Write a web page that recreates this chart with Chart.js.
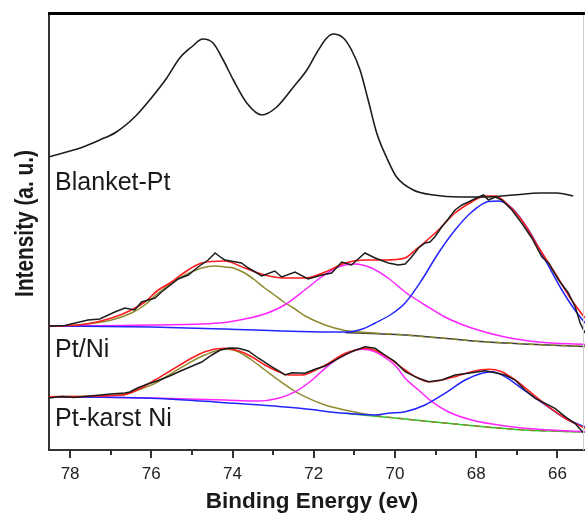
<!DOCTYPE html>
<html><head><meta charset="utf-8">
<script src="https://cdn.jsdelivr.net/npm/chart.js@4.4.0/dist/chart.umd.min.js"></script>
<style>html,body{margin:0;padding:0;background:#fff;overflow:hidden}#wrap{width:585px;height:515px;position:relative}</style>
</head><body><div id="wrap"><canvas id="c"></canvas></div>
<script>
// ---- axis ----
const xMajor = [78, 76, 74, 72, 70, 68, 66];
const xTickLabels = ['78', '76', '74', '72', '70', '68', '66'];
const xMinor = [77, 75, 73, 71, 69, 67];
const xMin = 65.32, xMax = 78.52;
const yMin = 0, yMax = 437;

// ---- sample names ----
const sampleNames = ['Blanket-Pt', 'Pt/Ni', 'Pt-karst Ni'];
const sampleLabelE = 78.37;
const sampleLabelI = [260, 93, 24];

// ---- Blanket-Pt ----
const blanketE = [78.52, 77.68, 77.27, 76.86, 76.36, 76.04, 75.62, 75.30, 75.01, 74.73, 74.48, 74.23, 73.98, 73.65, 73.28, 72.91, 72.50, 72.17, 71.93, 71.68, 71.52, 71.27, 71.07, 70.86, 70.66, 70.45, 70.20, 69.96, 69.55, 69.05, 68.40, 67.74, 67.08, 66.43, 66.01, 65.61];
const blanketI = [293, 303, 310, 318, 335, 350, 372, 392, 403, 411, 407, 390, 370, 347, 335, 343, 363, 380, 397, 412, 416, 412, 400, 380, 350, 317, 292, 273, 260, 255, 253, 253, 255, 257, 257, 254];

// ---- Pt/Ni ----
const niE = [78.52, 78.13, 77.56, 77.27, 76.90, 76.65, 76.41, 76.24, 75.91, 75.75, 75.34, 75.09, 74.85, 74.60, 74.43, 74.27, 74.19, 73.78, 73.61, 73.28, 72.96, 72.79, 72.46, 72.14, 71.80, 71.56, 71.31, 71.07, 70.74, 70.49, 70.16, 69.92, 69.75, 69.59, 69.42, 69.26, 69.14, 69.02, 68.85, 68.69, 68.52, 68.35, 68.19, 67.99, 67.82, 67.70, 67.53, 67.37, 67.12, 66.88, 66.63, 66.38, 66.22, 65.97, 65.73, 65.56, 65.44, 65.32];
const niI = [124, 124.5, 130, 131, 138, 142, 140, 148, 152, 158, 171, 175, 183, 190, 197, 192, 190, 187, 182, 174, 179, 173, 178, 171, 175, 177, 188, 185, 197, 192, 187, 185, 186, 193, 202, 207, 208, 213, 223, 231, 240, 245, 248, 252, 255, 250, 253, 250, 240, 227, 212, 193, 187, 170, 157, 143, 127, 117];
const niFitE = [78.52, 77.80, 76.98, 76.49, 76.16, 75.83, 75.50, 75.17, 74.76, 74.19, 73.70, 73.21, 72.72, 72.22, 71.72, 71.23, 70.74, 70.25, 69.75, 69.50, 69.26, 68.93, 68.52, 68.11, 67.78, 67.53, 67.29, 66.88, 66.47, 66.06, 65.65, 65.32];
const niFitI = [124, 125, 132, 140, 148, 160, 168, 178, 187, 189, 182, 175, 172, 172, 178, 187, 190, 190, 192, 200, 208, 220, 237, 248, 254, 254, 248, 230, 203, 177, 150, 132];
const niOlE = [78.52, 77.80, 76.98, 76.49, 76.16, 75.83, 75.50, 75.17, 74.76, 74.43, 74.19, 73.98, 73.70, 73.45, 73.21, 73.00, 72.74, 72.50, 72.21, 71.72, 71.23, 70.50, 69.75, 68.90, 67.91, 67.00, 66.26, 65.32];
const niOlI = [124, 125, 130, 137, 145, 157, 167, 175, 182, 184, 183, 182, 177, 170, 162, 156, 148, 142, 134, 125, 119.5, 117, 115, 112, 108.5, 106.5, 105, 104];
const niMaE = [78.52, 76.00, 74.19, 73.70, 73.21, 72.72, 72.22, 71.81, 71.40, 70.99, 70.58, 70.17, 69.75, 69.26, 68.77, 68.11, 67.29, 66.47, 65.32];
const niMaI = [124, 125, 127.5, 131, 136, 145, 160, 173, 183, 186, 182, 172, 158, 145, 133, 122, 113, 108, 105.5];
const niBlE = [78.52, 76.00, 74.19, 72.34, 71.19, 70.80, 70.49, 70.08, 69.75, 69.34, 68.93, 68.52, 68.11, 67.70, 67.45, 67.12, 66.71, 66.30, 65.89, 65.57, 65.32];
const niBlI = [124, 123, 121, 118.5, 118, 121, 127, 136, 147, 170, 197, 220, 238, 248.5, 249, 242, 220, 190, 160, 140, 127];
const niBgE = [71.23, 69.75, 67.91, 66.26, 65.32];
const niBgI = [117.5, 115, 108.5, 105, 103.5];

// ---- Pt-karst Ni ----
const kaE = [78.52, 78.20, 77.90, 77.50, 77.00, 76.65, 76.53, 76.34, 76.09, 75.86, 75.55, 75.28, 74.99, 74.76, 74.51, 74.30, 74.07, 73.86, 73.61, 73.37, 73.04, 72.79, 72.71, 72.54, 72.22, 71.97, 71.72, 71.39, 71.07, 70.74, 70.49, 70.25, 70.00, 69.75, 69.42, 69.17, 68.85, 68.52, 68.11, 67.78, 67.53, 67.29, 67.04, 66.80, 66.55, 66.30, 66.06, 65.81, 65.57, 65.36];
const kaI = [52, 53.5, 52.5, 54, 56, 57, 58, 62, 66, 69, 74, 79, 84, 88, 95, 100, 102, 101.7, 99, 92, 83.3, 77.3, 75, 77.3, 76.7, 80.7, 84, 91.7, 98.3, 103.3, 101.7, 95, 88.3, 78.3, 71.7, 68.3, 70, 75, 77.3, 79.3, 77.3, 75, 70, 60, 51.7, 46.7, 41.7, 33.3, 26.7, 17.3];
const kaFitE = [78.52, 76.73, 76.32, 75.91, 75.50, 75.09, 74.68, 74.19, 73.86, 73.53, 73.20, 72.87, 72.62, 72.29, 71.96, 71.63, 71.31, 70.98, 70.74, 70.41, 70.08, 69.75, 69.50, 69.17, 68.85, 68.52, 68.11, 67.70, 67.37, 67.04, 66.63, 66.22, 65.81, 65.32];
const kaFitI = [53.3, 55, 60.7, 70, 80, 90, 98.3, 101.7, 99.3, 93.3, 85, 78.3, 75, 75, 80, 86.7, 95, 100, 101.7, 98.3, 90, 80, 73.3, 68.3, 70, 73.3, 78.3, 80.7, 78.3, 70, 56.7, 43.3, 31.7, 21.7];
const kaOlE = [78.52, 76.73, 76.32, 75.91, 75.50, 75.09, 74.68, 74.19, 74.06, 73.86, 73.53, 73.20, 72.87, 72.54, 72.22, 71.72, 71.23, 70.74, 69.75, 68.27, 66.80, 65.32];
const kaOlI = [53.3, 55, 60, 66.7, 76.7, 86.7, 95, 100.7, 100.5, 98.3, 90, 80, 70, 60.7, 53.3, 45, 40, 36, 31, 25, 20, 18];
const kaMaE = [78.52, 76.00, 74.19, 73.37, 72.87, 72.45, 72.04, 71.72, 71.40, 71.07, 70.82, 70.49, 70.16, 69.96, 69.75, 69.42, 69.09, 68.69, 68.11, 67.29, 66.47, 65.32];
const kaMaI = [53.3, 52, 50, 49, 51.7, 58.3, 70, 81.7, 91.7, 98.3, 100.7, 98.3, 90, 83, 71.7, 60, 48.3, 38.3, 30, 24, 20.7, 18.3];
const kaBlE = [78.52, 76.00, 73.96, 72.34, 71.23, 70.49, 70.16, 69.75, 69.26, 68.77, 68.27, 67.86, 67.61, 67.29, 66.88, 66.47, 66.06, 65.73, 65.32];
const kaBlI = [53.3, 51.7, 46.7, 41.7, 36.7, 35, 36.7, 38.3, 45, 56.7, 70, 76.7, 78.3, 73.3, 61.7, 50, 38.3, 30, 23.3];
const kaBgE = [71.23, 69.75, 68.27, 66.80, 65.32];
const kaBgI = [36.7, 31, 25, 20, 18];

// ---- colours ----
const C = {black: '#1c1c1c', red: '#ff1c1c', blue: '#2424ff', magenta: '#ff24ff', olive: '#8f8a30', green: '#28c828', dark: '#3a3a3a'};

const mk = (E, I) => E.map((e, i) => ({x: e, y: I[i]}));
function ds(E, I, color, extra) {
  return Object.assign({data: mk(E, I), borderColor: color, borderWidth: 1.5, pointRadius: 0,
    fill: false, cubicInterpolationMode: 'monotone'}, extra || {});
}
const dashRight = {segment: {borderDash: c => (c.p0.parsed.x < 71.0 ? [6, 5] : undefined)}};

const datasets = [
  ds(blanketE, blanketI, C.black, {borderWidth: 1.6}),
  ds(niE, niI, C.black, {tension: 0, cubicInterpolationMode: 'default', borderWidth: 1.5}),
  ds(kaE, kaI, C.black, {tension: 0, cubicInterpolationMode: 'default', borderWidth: 1.5}),
  ds(niFitE, niFitI, C.red, {borderWidth: 1.6}),
  ds(kaFitE, kaFitI, C.red, {borderWidth: 1.6}),
  ds(niBlE, niBlI, C.blue),
  ds(kaBlE, kaBlI, C.blue),
  ds(niMaE, niMaI, C.magenta),
  ds(kaMaE, kaMaI, C.magenta),
  ds(niOlE, niOlI, C.olive, dashRight),
  ds(kaOlE, kaOlI, C.olive, dashRight),
  ds(niBgE, niBgI, C.dark),
  ds(kaBgE, kaBgI, C.green)
];

const decor = {
  id: 'decor',
  afterDraw(chart) {
    const {ctx, chartArea: a, scales: {x, y}} = chart;
    ctx.save();
    // minor ticks
    ctx.strokeStyle = '#333'; ctx.lineWidth = 2;
    xMinor.forEach(v => {
      const px = Math.round(x.getPixelForValue(v));
      ctx.beginPath(); ctx.moveTo(px, a.bottom); ctx.lineTo(px, a.bottom + 5); ctx.stroke();
    });
    // top frame
    ctx.strokeStyle = '#000'; ctx.lineWidth = 3;
    ctx.beginPath(); ctx.moveTo(a.left - 1, a.top + 0.5); ctx.lineTo(a.right, a.top + 0.5); ctx.stroke();
    // right frame (faint)
    ctx.strokeStyle = '#cfcfcf'; ctx.lineWidth = 1;
    ctx.beginPath(); ctx.moveTo(a.right - 1.5, a.top + 2); ctx.lineTo(a.right - 1.5, a.bottom); ctx.stroke();
    // sample labels
    ctx.fillStyle = '#1a1a1a';
    ctx.font = '25px "Liberation Sans", Arial, sans-serif';
    ctx.textAlign = 'left'; ctx.textBaseline = 'alphabetic';
    sampleNames.forEach((n, i) => ctx.fillText(n, x.getPixelForValue(sampleLabelE), y.getPixelForValue(sampleLabelI[i])));
    // x title
    ctx.font = 'bold 22.5px "Liberation Sans", Arial, sans-serif';
    ctx.textAlign = 'center';
    ctx.fillText('Binding Energy (ev)', (a.left + a.right) / 2 - 5, 508);
    // y title
    ctx.translate(33, (a.top + a.bottom) / 2 - 8);
    ctx.rotate(-Math.PI / 2);
    ctx.scale(0.8, 1);
    ctx.font = 'bold 26px "Liberation Sans", Arial, sans-serif';
    ctx.fillText('Intensity (a. u.)', 0, 0);
    ctx.restore();
  }
};

new Chart(document.getElementById('c'), {
  type: 'line',
  data: {datasets},
  options: {
    responsive: true, maintainAspectRatio: false, animation: false, devicePixelRatio: 1,
    events: [],
    layout: {padding: {top: 13, right: 0, left: 0, bottom: 0}},
    plugins: {legend: {display: false}, tooltip: {enabled: false}},
    scales: {
      x: {
        type: 'linear', reverse: true, min: xMin, max: xMax,
        afterFit: s => { s.height = 65; },
        border: {display: true, color: '#333', width: 2},
        grid: {display: true, drawOnChartArea: false, drawTicks: true, tickLength: 8, lineWidth: 2,
          color: c => (c.tick && xMajor.includes(c.tick.value)) ? '#333' : 'rgba(0,0,0,0)'},
        ticks: {stepSize: 1, autoSkip: false, maxRotation: 0, includeBounds: false, padding: 6,
          color: '#222', font: {family: '"Liberation Sans", Arial, sans-serif', size: 17},
          callback: v => { const k = xMajor.indexOf(v); return k >= 0 ? xTickLabels[k] : ''; }}
      },
      y: {
        type: 'linear', min: yMin, max: yMax,
        afterFit: s => { s.width = 49; },
        border: {display: true, color: '#333', width: 2},
        grid: {display: false},
        ticks: {display: false}
      }
    }
  },
  plugins: [decor]
});
</script>
</body></html>
